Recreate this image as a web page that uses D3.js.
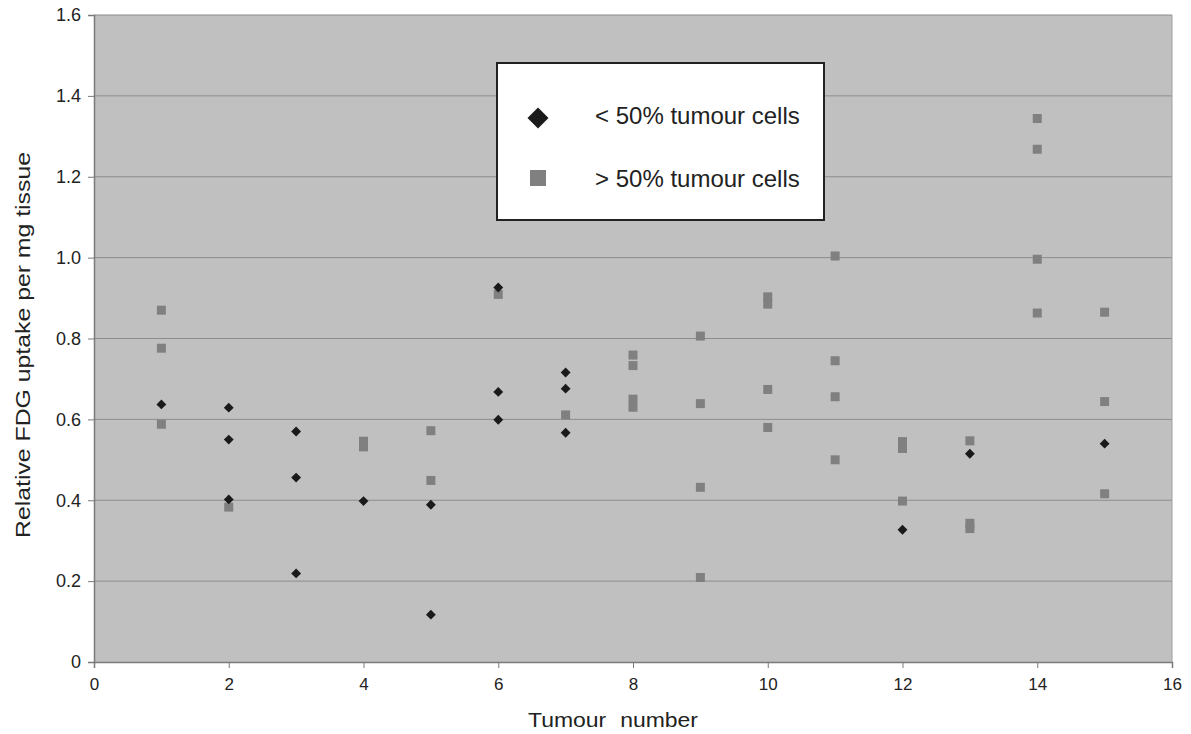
<!DOCTYPE html>
<html>
<head>
<meta charset="utf-8">
<script src="https://cdn.jsdelivr.net/npm/d3@7"></script>
<style>
  body { margin: 0; background: #fff; }
  text { font-family: "Liberation Sans", Arial, sans-serif; fill: #222; }
</style>
</head>
<body>
<div id="chart"></div>
<script>
// tumour number for each point, one array per group
const lowTumour  = [1, 2, 2, 2, 3, 3, 3, 4, 5, 5, 6, 6, 6, 7, 7, 7, 12, 13, 15]
const lowValues  = [0.637, 0.629, 0.550, 0.402, 0.570, 0.456, 0.219, 0.398, 0.389, 0.117,
	0.926, 0.668, 0.599, 0.716, 0.676, 0.567, 0.327, 0.515, 0.540]

const highTumour = [1, 1, 1, 2, 4, 4, 5, 5, 6, 7, 8, 8, 8, 8, 9, 9, 9, 9, 10, 10, 10, 10,
	11, 11, 11, 11, 12, 12, 12, 13, 13, 13, 14, 14, 14, 14, 15, 15, 15]
const highValues = [0.870, 0.776, 0.588, 0.383, 0.546, 0.532, 0.572, 0.449, 0.909, 0.611,
	0.759, 0.733, 0.650, 0.630, 0.806, 0.639, 0.432, 0.209, 0.903, 0.885, 0.674, 0.580,
	1.004, 0.745, 0.656, 0.500, 0.545, 0.528, 0.398, 0.547, 0.343, 0.330,
	1.344, 1.268, 0.996, 0.863, 0.865, 0.644, 0.416]

const xTicks = [0, 2, 4, 6, 8, 10, 12, 14, 16]
const yTicks = [0, 0.2, 0.4, 0.6, 0.8, 1.0, 1.2, 1.4, 1.6]
const legendLabels = ['< 50% tumour cells', '> 50% tumour cells']

const W = 1191, H = 734
const margin = { top: 15, right: 19, bottom: 72, left: 94 }
const width = W - margin.left - margin.right
const height = H - margin.top - margin.bottom

const svg = d3.select('#chart').append('svg')
	.attr('width', W)
	.attr('height', H)

const g = svg.append('g')
	.attr('transform', 'translate(' + margin.left + ',' + margin.top + ')')

const x = d3.scaleLinear().domain([0, 16]).range([0, width])
const y = d3.scaleLinear().domain([0, 1.6]).range([height, 0])

// plot background
g.append('rect')
	.attr('width', width)
	.attr('height', height)
	.attr('fill', '#c0c0c0')

// gridlines
g.selectAll('.grid')
	.data(yTicks.filter(d => d > 0))
	.enter().append('line')
	.attr('x1', 0).attr('x2', width)
	.attr('y1', d => y(d)).attr('y2', d => y(d))
	.attr('stroke', '#8c8c8c')
	.attr('stroke-width', 1)

g.append('line')
	.attr('x1', width).attr('x2', width)
	.attr('y1', 0).attr('y2', height)
	.attr('stroke', '#a0a0a0')

// axes
const yAxis = g.append('g')
	.call(d3.axisLeft(y).tickValues(yTicks).tickSize(6).tickPadding(7)
		.tickFormat(d => d === 0 ? '0' : d3.format('.1f')(d)))
const xAxis = g.append('g')
	.attr('transform', 'translate(0,' + height + ')')
	.call(d3.axisBottom(x).tickValues(xTicks).tickSize(6).tickPadding(10))

;[xAxis, yAxis].forEach(a => {
	a.select('.domain').attr('stroke', '#7a7a7a').attr('stroke-width', 1.5)
	a.selectAll('line').attr('stroke', '#7a7a7a')
	a.selectAll('text')
		.style('fill', '#222')
		.style('font-family', '"Liberation Sans", Arial, sans-serif')
})
yAxis.selectAll('text').style('font-size', '18px')
xAxis.selectAll('text').style('font-size', '17px')

// points
const lowData = lowTumour.map((t, i) => ({ t, v: lowValues[i] }))
const highData = highTumour.map((t, i) => ({ t, v: highValues[i] }))

const sq = 9
g.selectAll('.high')
	.data(highData)
	.enter().append('rect')
	.attr('class', 'high')
	.attr('x', d => x(d.t) - sq / 2)
	.attr('y', d => y(d.v) - sq / 2)
	.attr('width', sq)
	.attr('height', sq)
	.attr('fill', '#808080')

const diamond = d3.symbol().type(d3.symbolDiamond2).size(62)
g.selectAll('.low')
	.data(lowData)
	.enter().append('path')
	.attr('class', 'low')
	.attr('d', diamond)
	.attr('transform', d => 'translate(' + x(d.t) + ',' + y(d.v) + ')')
	.attr('fill', '#1a1a1a')

// legend
const lg = svg.append('g').attr('transform', 'translate(497,63)')
lg.append('rect')
	.attr('width', 327)
	.attr('height', 157)
	.attr('fill', '#fff')
	.attr('stroke', '#222')
	.attr('stroke-width', 2)

lg.append('path')
	.attr('d', d3.symbol().type(d3.symbolDiamond2).size(280))
	.attr('transform', 'translate(41,55)')
	.attr('fill', '#1a1a1a')
lg.append('rect')
	.attr('x', 33).attr('y', 107)
	.attr('width', 16).attr('height', 16)
	.attr('fill', '#808080')

lg.selectAll('.lgtext')
	.data(legendLabels)
	.enter().append('text')
	.attr('x', 98)
	.attr('y', (d, i) => 61 + i * 63)
	.attr('font-size', 24)
	.text(d => d)

// axis titles
svg.append('text')
	.attr('x', 613)
	.attr('y', 727)
	.attr('text-anchor', 'middle')
	.attr('font-size', 21)
	.attr('word-spacing', 7)
	.attr('textLength', 170)
	.attr('lengthAdjust', 'spacingAndGlyphs')
	.text('Tumour number')

svg.append('text')
	.attr('transform', 'translate(30,345) rotate(-90)')
	.attr('text-anchor', 'middle')
	.attr('font-size', 20)
	.attr('textLength', 386)
	.attr('lengthAdjust', 'spacingAndGlyphs')
	.text('Relative FDG uptake per mg tissue')
</script>
</body>
</html>
